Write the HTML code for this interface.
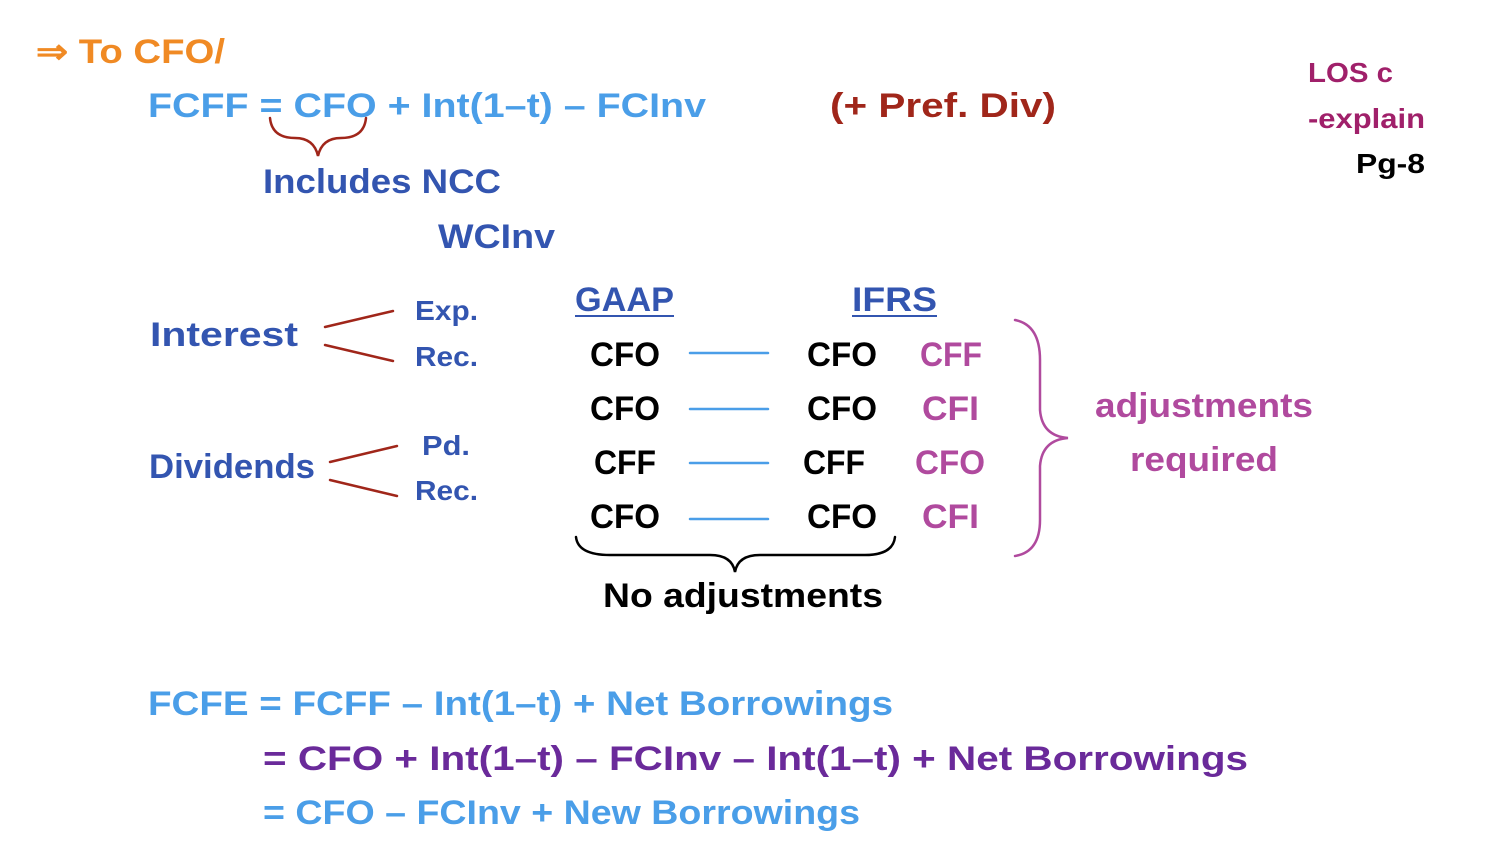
<!DOCTYPE html>
<html><head><meta charset="utf-8"><style>
html,body{margin:0;padding:0;background:#fff;width:1500px;height:864px;overflow:hidden}
svg text{font-family:"Liberation Sans",sans-serif;font-weight:bold}
</style></head><body>
<svg width="1500" height="864" viewBox="0 0 1500 864" xmlns="http://www.w3.org/2000/svg">
<g font-size="34">
<text x="36" y="63" fill="#f08a24" textLength="189" lengthAdjust="spacingAndGlyphs">⇒ To CFO/</text>
<text x="148" y="117" fill="#4a9ee8" textLength="558" lengthAdjust="spacingAndGlyphs">FCFF = CFO + Int(1–t) – FCInv</text>
<text x="830" y="117" fill="#a0261a" textLength="226" lengthAdjust="spacingAndGlyphs">(+ Pref. Div)</text>
<text x="263" y="193" fill="#3355b0" textLength="238" lengthAdjust="spacingAndGlyphs">Includes NCC</text>
<text x="438" y="248" fill="#3355b0" textLength="117" lengthAdjust="spacingAndGlyphs">WCInv</text>
<text x="150" y="346" fill="#3355b0" textLength="148" lengthAdjust="spacingAndGlyphs">Interest</text>
<text x="149" y="478" fill="#3355b0" textLength="166" lengthAdjust="spacingAndGlyphs">Dividends</text>
<text x="575" y="311" fill="#3355b0" textLength="99" lengthAdjust="spacingAndGlyphs">GAAP</text>
<text x="852" y="311" fill="#3355b0" textLength="85" lengthAdjust="spacingAndGlyphs">IFRS</text>
<text x="603" y="607" fill="#000" textLength="280" lengthAdjust="spacingAndGlyphs">No adjustments</text>
<text x="1095" y="417" fill="#b04a9e" textLength="218" lengthAdjust="spacingAndGlyphs">adjustments</text>
<text x="1130" y="471" fill="#b04a9e" textLength="148" lengthAdjust="spacingAndGlyphs">required</text>
<text x="148" y="715" fill="#4a9ee8" textLength="745" lengthAdjust="spacingAndGlyphs">FCFE = FCFF – Int(1–t) + Net Borrowings</text>
<text x="263" y="770" fill="#6a2a9a" textLength="985" lengthAdjust="spacingAndGlyphs">= CFO + Int(1–t) – FCInv – Int(1–t) + Net Borrowings</text>
<text x="263" y="824" fill="#4a9ee8" textLength="597" lengthAdjust="spacingAndGlyphs">= CFO – FCInv + New Borrowings</text>
<g fill="#000">
<text x="590" y="366" textLength="70" lengthAdjust="spacingAndGlyphs">CFO</text>
<text x="590" y="420" textLength="70" lengthAdjust="spacingAndGlyphs">CFO</text>
<text x="594" y="474" textLength="62" lengthAdjust="spacingAndGlyphs">CFF</text>
<text x="590" y="528" textLength="70" lengthAdjust="spacingAndGlyphs">CFO</text>
<text x="807" y="366" textLength="70" lengthAdjust="spacingAndGlyphs">CFO</text>
<text x="807" y="420" textLength="70" lengthAdjust="spacingAndGlyphs">CFO</text>
<text x="803" y="474" textLength="62" lengthAdjust="spacingAndGlyphs">CFF</text>
<text x="807" y="528" textLength="70" lengthAdjust="spacingAndGlyphs">CFO</text>
</g>
<g fill="#b04a9e">
<text x="920" y="366" textLength="62" lengthAdjust="spacingAndGlyphs">CFF</text>
<text x="922" y="420" textLength="57" lengthAdjust="spacingAndGlyphs">CFI</text>
<text x="915" y="474" textLength="70" lengthAdjust="spacingAndGlyphs">CFO</text>
<text x="922" y="528" textLength="57" lengthAdjust="spacingAndGlyphs">CFI</text>
</g>
</g>
<g font-size="28">
<text x="1308" y="82" fill="#a0206a" textLength="85" lengthAdjust="spacingAndGlyphs">LOS c</text>
<text x="1308" y="128" fill="#a0206a" textLength="117" lengthAdjust="spacingAndGlyphs">-explain</text>
<text x="1356" y="173" fill="#000" textLength="69" lengthAdjust="spacingAndGlyphs">Pg-8</text>
<text x="415" y="320" fill="#3355b0" textLength="63" lengthAdjust="spacingAndGlyphs">Exp.</text>
<text x="415" y="366" fill="#3355b0" textLength="63" lengthAdjust="spacingAndGlyphs">Rec.</text>
<text x="422" y="455" fill="#3355b0" textLength="48" lengthAdjust="spacingAndGlyphs">Pd.</text>
<text x="415" y="500" fill="#3355b0" textLength="63" lengthAdjust="spacingAndGlyphs">Rec.</text>
</g>
<g stroke="#3355b0" stroke-width="2">
<line x1="575" y1="316" x2="674" y2="316"/>
<line x1="852" y1="316" x2="937" y2="316"/>
</g>
<g fill="none" stroke-width="2.5" stroke-linecap="round">
<path d="M270 118 Q272 138 295 138 Q314 138 318 156 Q322 138 341 138 Q364 138 366 118" stroke="#a0261a"/>
<g stroke="#a0261a">
<line x1="325" y1="327" x2="393" y2="311"/><line x1="325" y1="345" x2="393" y2="361"/>
<line x1="330" y1="462" x2="397" y2="446"/><line x1="330" y1="480" x2="397" y2="496"/>
</g>
<g stroke="#4a9ee8">
<line x1="690" y1="353" x2="768" y2="353"/><line x1="690" y1="409" x2="768" y2="409"/>
<line x1="690" y1="463" x2="768" y2="463"/><line x1="690" y1="519" x2="768" y2="519"/>
</g>
<path d="M576 537 Q578 555 610 555 L710 555 Q732 555 735 572 Q738 555 760 555 L865 555 Q893 555 895 537" stroke="#000"/>
<path d="M1015 320 Q1040 325 1040 360 L1040 410 Q1042 436 1068 438 Q1042 440 1040 466 L1040 520 Q1040 552 1015 556" stroke="#b04a9e"/>
</g>
</svg>
</body></html>
